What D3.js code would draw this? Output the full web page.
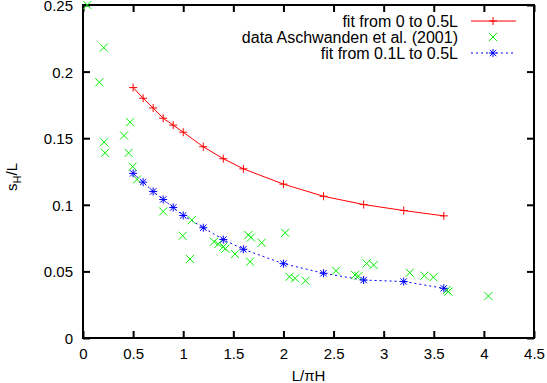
<!DOCTYPE html>
<html>
    <head>
	<meta http-equiv="Content-Type" content="text/html; charset=UTF-8" />
	<title>sH/L</title>
	<script type="text/javascript" src="https://d3js.org/d3.v7.min.js"></script>
	<style type="text/css" media="screen">
	 body {
	     margin: 0;
	     background: white;
	 }
	 svg text {
	     font-family: "Liberation Sans", Arial, sans-serif;
	     font-size: 15px;
	     fill: black;
	 }
	 .legend text {
	     font-size: 16px;
	 }
	 .frame {
	     fill: none;
	     stroke: black;
	     stroke-width: 2px;
	 }
	 .tick line {
	     stroke: black;
	     stroke-width: 2px;
	 }
	</style>
    </head>
    <body>
	<script type="text/javascript">

	 var width = 547;
	 var height = 383;

	 // fit from 0 to 0.5L
	 var fitAllX = [0.5, 0.6, 0.7, 0.8, 0.9, 1.0, 1.2, 1.4, 1.6, 2.0, 2.4, 2.8, 3.2, 3.6];
	 var fitAllY = [0.188, 0.180, 0.1727, 0.165, 0.1598, 0.1545, 0.1436, 0.1346, 0.127, 0.1155, 0.1064, 0.1002, 0.0957, 0.0917];

	 // fit from 0.1L to 0.5L
	 var fitPartX = [0.5, 0.6, 0.7, 0.8, 0.9, 1.0, 1.2, 1.4, 1.6, 2.0, 2.4, 2.8, 3.2, 3.6];
	 var fitPartY = [0.1236, 0.117, 0.110, 0.104, 0.098, 0.092, 0.0828, 0.0739, 0.0666, 0.0558, 0.0486, 0.0435, 0.0424, 0.0373];

	 // data Aschwanden et al. (2001)
	 var dataX = [0.043, 0.207, 0.163, 0.47, 0.41, 0.21, 0.22, 0.455, 0.495, 0.54,
		      0.80, 1.085, 0.995, 1.068, 1.307, 1.35, 1.40, 1.42, 1.517, 1.65,
		      1.676, 1.667, 1.783, 2.017, 2.06, 2.116, 2.22, 2.525, 2.715, 2.748,
		      2.83, 2.90, 3.26, 3.406, 3.496, 3.63, 3.645, 4.045];
	 var dataY = [0.25, 0.218, 0.192, 0.162, 0.152, 0.147, 0.139, 0.139, 0.1286, 0.119,
		      0.095, 0.0885, 0.0768, 0.0593, 0.0723, 0.0706, 0.0685, 0.067, 0.063, 0.0773,
		      0.0755, 0.0573, 0.0715, 0.079, 0.046, 0.0448, 0.043, 0.0505, 0.0473, 0.0465,
		      0.056, 0.0548, 0.049, 0.0468, 0.0456, 0.036, 0.0348, 0.0315];

	 var xTicks = [0, 0.5, 1, 1.5, 2, 2.5, 3, 3.5, 4, 4.5];
	 var yTicks = [0, 0.05, 0.1, 0.15, 0.2, 0.25];

	 var legendLabels = ['fit from 0 to 0.5L', 'data Aschwanden et al. (2001)', 'fit from 0.1L to 0.5L'];

	 var mLeft = 83, mRight = 534, mTop = 5, mBottom = 338;

	 var x = d3.scaleLinear().domain([0, 4.5]).range([mLeft, mRight]);
	 var y = d3.scaleLinear().domain([0, 0.25]).range([mBottom, mTop]);

	 var svg = d3.select('body')
		     .append('svg')
		     .attr('width', width)
		     .attr('height', height);

	 var tickFmt = function (d) { return String(+d.toFixed(2)); };
	 var font = '"Liberation Sans", Arial, sans-serif';

	 // axes, ticks drawn inward on all four sides
	 svg.append('g')
	    .attr('transform', 'translate(0,' + mBottom + ')')
	    .call(d3.axisBottom(x).tickValues(xTicks).tickSizeInner(-7).tickSizeOuter(0).tickFormat(tickFmt))
	    .call(g => g.select('.domain').remove())
	    .call(g => g.selectAll('text').attr('y', 10).attr('dy', '0.71em').style('font-size', '15px').style('font-family', font));
	 svg.append('g')
	    .attr('transform', 'translate(0,' + mTop + ')')
	    .call(d3.axisTop(x).tickValues(xTicks).tickSizeInner(-7).tickSizeOuter(0).tickFormat(''))
	    .call(g => g.select('.domain').remove());
	 svg.append('g')
	    .attr('transform', 'translate(' + mLeft + ',0)')
	    .call(d3.axisLeft(y).tickValues(yTicks).tickSizeInner(-7).tickSizeOuter(0).tickFormat(tickFmt))
	    .call(g => g.select('.domain').remove())
	    .call(g => g.selectAll('text').attr('x', -10).attr('dy', '0.36em').style('font-size', '15px').style('font-family', font));
	 svg.append('g')
	    .attr('transform', 'translate(' + mRight + ',0)')
	    .call(d3.axisRight(y).tickValues(yTicks).tickSizeInner(-7).tickSizeOuter(0).tickFormat(''))
	    .call(g => g.select('.domain').remove());

	 svg.append('rect')
	    .attr('class', 'frame')
	    .attr('x', mLeft)
	    .attr('y', mTop)
	    .attr('width', mRight - mLeft)
	    .attr('height', mBottom - mTop);

	 // axis labels
	 svg.append('text')
	    .attr('x', (mLeft + mRight) / 2)
	    .attr('y', 381)
	    .attr('text-anchor', 'middle')
	    .text('L/\u03c0H');

	 var yl = svg.append('text')
		     .attr('transform', 'translate(17,177) rotate(-90)')
		     .attr('text-anchor', 'middle');
	 yl.append('tspan').text('s');
	 yl.append('tspan').attr('dy', 4).style('font-size', '11px').text('H');
	 yl.append('tspan').attr('dy', -4).text('/L');

	 // marker shapes
	 function plus(g, s, color) {
	     g.append('path')
	      .attr('d', 'M' + (-s) + ',0H' + s + 'M0,' + (-s) + 'V' + s)
	      .attr('stroke', color).attr('stroke-width', 1).attr('fill', 'none');
	 }
	 function cross(g, s, color) {
	     g.append('path')
	      .attr('d', 'M' + (-s) + ',' + (-s) + 'L' + s + ',' + s + 'M' + (-s) + ',' + s + 'L' + s + ',' + (-s))
	      .attr('stroke', color).attr('stroke-width', 1).attr('fill', 'none');
	 }
	 function star(g, s, color) {
	     plus(g, s, color);
	     cross(g, s * 0.8, color);
	 }

	 var red = '#ff0000';
	 var green = '#00ee00';
	 var blue = '#0000ff';

	 var fitAll = fitAllX.map((v, i) => ({x: v, y: fitAllY[i]}));
	 var fitPart = fitPartX.map((v, i) => ({x: v, y: fitPartY[i]}));
	 var data = dataX.map((v, i) => ({x: v, y: dataY[i]}));

	 var line = d3.line().x(d => x(d.x)).y(d => y(d.y));

	 svg.append('path')
	    .datum(fitAll)
	    .attr('d', line)
	    .attr('fill', 'none')
	    .attr('stroke', red)
	    .attr('stroke-width', 1);

	 svg.append('path')
	    .datum(fitPart)
	    .attr('d', line)
	    .attr('fill', 'none')
	    .attr('stroke', blue)
	    .attr('stroke-width', 1)
	    .attr('stroke-dasharray', '2,3');

	 svg.selectAll('.pr')
	    .data(fitAll)
	    .enter()
	    .append('g')
	    .attr('class', 'pr')
	    .attr('transform', d => 'translate(' + x(d.x) + ',' + y(d.y) + ')')
	    .each(function () { plus(d3.select(this), 4, red); });

	 svg.selectAll('.pg')
	    .data(data)
	    .enter()
	    .append('g')
	    .attr('class', 'pg')
	    .attr('transform', d => 'translate(' + x(d.x) + ',' + y(d.y) + ')')
	    .each(function () { cross(d3.select(this), 4, green); });

	 svg.selectAll('.pb')
	    .data(fitPart)
	    .enter()
	    .append('g')
	    .attr('class', 'pb')
	    .attr('transform', d => 'translate(' + x(d.x) + ',' + y(d.y) + ')')
	    .each(function () { star(d3.select(this), 4, blue); });

	 // legend
	 var legend = svg.selectAll('.legend')
			 .data(legendLabels)
			 .enter()
			 .append('g')
			 .attr('class', 'legend')
			 .attr('transform', (d, i) => 'translate(0,' + (21 + i * 16) + ')');

	 legend.append('text')
	       .attr('x', 458)
	       .attr('dy', '0.35em')
	       .attr('text-anchor', 'end')
	       .text(d => d);

	 legend.each(function (d, i) {
	     var g = d3.select(this);
	     if (i === 1) {
		 g.append('g').attr('transform', 'translate(493,0)').call(s => cross(s, 4, green));
		 return;
	     }
	     var color = i === 0 ? red : blue;
	     g.append('line')
	      .attr('x1', 471).attr('x2', 516)
	      .attr('stroke', color).attr('stroke-width', 1)
	      .attr('stroke-dasharray', i === 2 ? '2,3' : null);
	     g.append('g').attr('transform', 'translate(493,0)').call(s => i === 0 ? plus(s, 4, color) : star(s, 4, color));
	 });

	</script>
    </body>
</html>
